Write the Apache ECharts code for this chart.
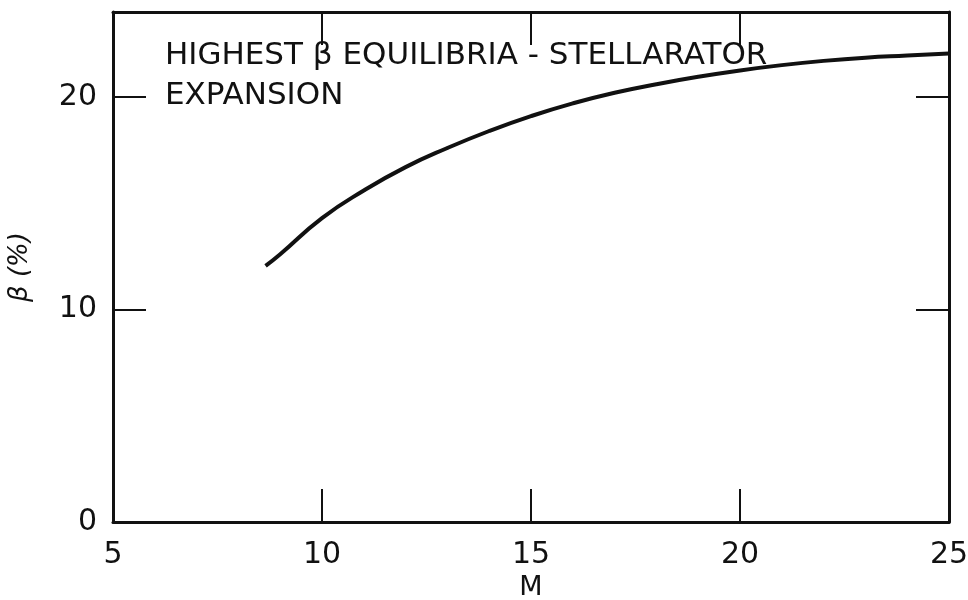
<!DOCTYPE html>
<html>
<head>
<meta charset="utf-8" />
<style>
  html, body { margin: 0; padding: 0; background: #fff; }
  #main { width: 968px; height: 600px; }
</style>
</head>
<body>
<div id="main"></div>
<script src="https://cdn.jsdelivr.net/npm/echarts@6/dist/echarts.min.js"></script>
<script>
// values
var mValues = [8.65, 9, 10, 11, 12, 13, 14, 15, 16, 17, 18, 19, 20, 21, 22, 23, 24, 25];
var betaValues = [12.05, 12.6, 14.3, 15.6, 16.7, 17.6, 18.4, 19.1, 19.7, 20.2, 20.6, 20.95, 21.25, 21.5, 21.7, 21.85, 21.95, 22.05];
var xTicks = [5, 10, 15, 20, 25];
var yTicks = [0, 10, 20];
var titleLines = ['HIGHEST \u03b2 EQUILIBRIA - STELLARATOR', 'EXPANSION'];

var font = 'DejaVu Sans';
var ink = '#111';

var chart = echarts.init(document.getElementById('main'));

var lineStyle = { color: ink, width: 3 };
var tickIn = { show: true, inside: true, length: 33, lineStyle: { color: ink, width: 2 } };

var option = {
  backgroundColor: '#fff',
  animation: false,
  grid: { left: 113, right: 19, top: 12, bottom: 78, outerBoundsMode: 'none', containLabel: false },
  title: {
    text: titleLines.join('\n'),
    left: 160,
    top: 31,
    textStyle: { fontFamily: font, fontSize: 31, fontWeight: 'normal', color: ink, lineHeight: 40 }
  },
  xAxis: [
    {
      type: 'value', min: 5, max: 25, interval: 5, position: 'bottom',
      name: 'M', nameLocation: 'middle', nameGap: 48,
      nameTextStyle: { fontFamily: font, fontSize: 27, color: ink },
      axisLine: { onZero: false, lineStyle: lineStyle },
      axisTick: Object.assign({ customValues: xTicks }, tickIn),
      axisLabel: { customValues: xTicks, fontFamily: font, fontSize: 30, color: ink, margin: 18 },
      splitLine: { show: false }
    },
    {
      type: 'value', min: 5, max: 25, interval: 5, position: 'top',
      axisLine: { onZero: false, lineStyle: lineStyle },
      axisTick: Object.assign({ customValues: xTicks }, tickIn),
      axisLabel: { show: false },
      splitLine: { show: false }
    }
  ],
  yAxis: [
    {
      type: 'value', min: 0, max: 24, interval: 10, position: 'left',
      name: '\u03b2 (%)', nameLocation: 'middle', nameGap: 80,
      nameTextStyle: { fontFamily: font, fontSize: 26, fontStyle: 'italic', color: ink },
      axisLine: { onZero: false, lineStyle: lineStyle },
      axisTick: Object.assign({ customValues: yTicks }, tickIn),
      axisLabel: { customValues: yTicks, fontFamily: font, fontSize: 30, color: ink, margin: 16 },
      splitLine: { show: false }
    },
    {
      type: 'value', min: 0, max: 24, interval: 10, position: 'right',
      axisLine: { onZero: false, lineStyle: lineStyle },
      axisTick: Object.assign({ customValues: yTicks }, tickIn),
      axisLabel: { show: false },
      splitLine: { show: false }
    }
  ],
  series: [
    {
      type: 'line',
      smooth: true,
      showSymbol: false,
      data: mValues.map(function (m, i) { return [m, betaValues[i]]; }),
      lineStyle: { color: ink, width: 4 }
    }
  ]
};
chart.setOption(option);
</script>
</body>
</html>
